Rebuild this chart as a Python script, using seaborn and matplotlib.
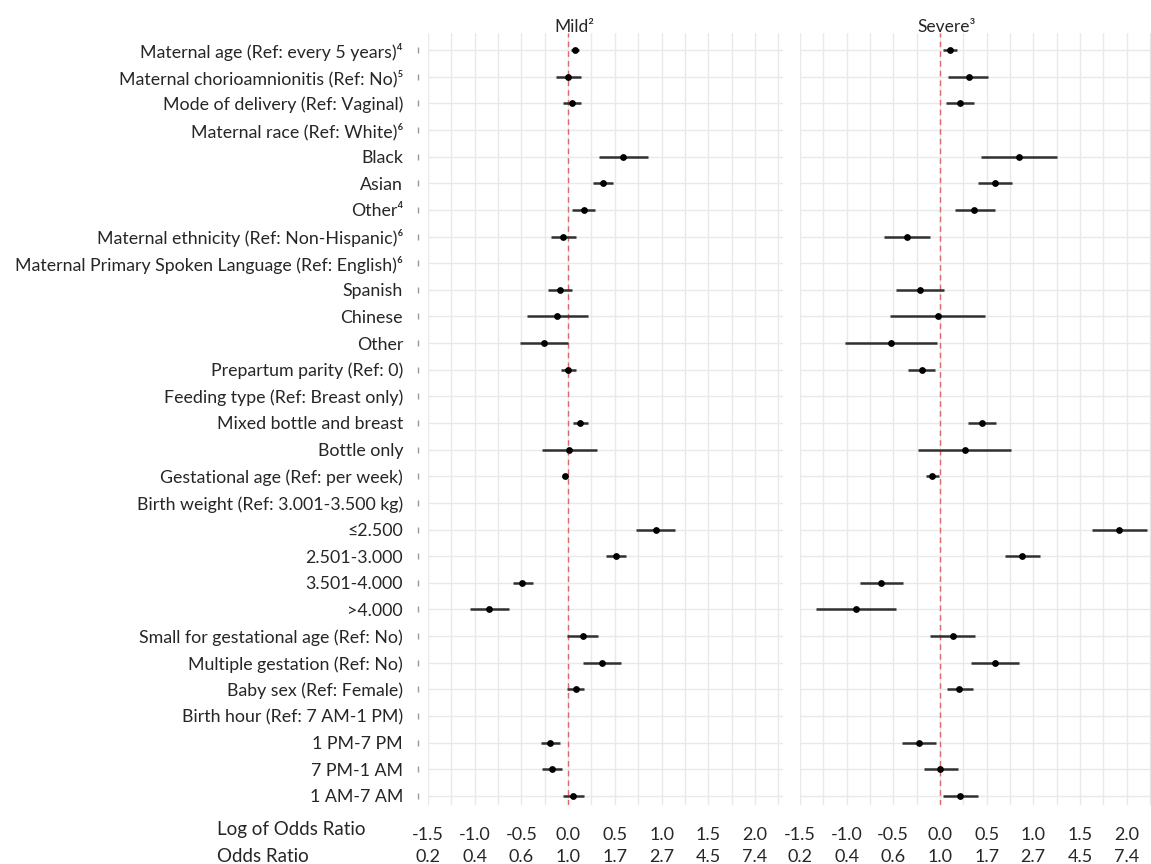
import numpy as np
import pandas as pd
import seaborn as sns
import matplotlib.pyplot as plt
from matplotlib.transforms import blended_transform_factory

nan = np.nan

LABELS = [
    'Maternal age (Ref: every 5 years)⁴',
    'Maternal chorioamnionitis (Ref: No)⁵',
    'Mode of delivery (Ref: Vaginal)',
    'Maternal race (Ref: White)⁶',
    'Black',
    'Asian',
    'Other⁴',
    'Maternal ethnicity (Ref: Non-Hispanic)⁶',
    'Maternal Primary Spoken Language (Ref: English)⁶',
    'Spanish',
    'Chinese',
    'Other',
    'Prepartum parity (Ref: 0)',
    'Feeding type (Ref: Breast only)',
    'Mixed bottle and breast',
    'Bottle only',
    'Gestational age (Ref: per week)',
    'Birth weight (Ref: 3.001-3.500 kg)',
    '≤2.500',
    '2.501-3.000',
    '3.501-4.000',
    '>4.000',
    'Small for gestational age (Ref: No)',
    'Multiple gestation (Ref: No)',
    'Baby sex (Ref: Female)',
    'Birth hour (Ref: 7 AM-1 PM)',
    '1 PM-7 PM',
    '7 PM-1 AM',
    '1 AM-7 AM',
]

# log odds ratios, mild hyperbilirubinemia
mild_est = [0.07, 0.0, 0.04, nan, 0.59, 0.375, 0.165, -0.055, nan, -0.09, -0.115, -0.255,
            0.0, nan, 0.13, 0.01, -0.035, nan, 0.94, 0.51, -0.49, -0.845, 0.155, 0.36,
            0.08, nan, -0.195, -0.175, 0.055]
mild_lo = [0.035, -0.125, -0.055, nan, 0.33, 0.27, 0.045, -0.18, nan, -0.22, -0.435, -0.51,
           -0.08, nan, 0.05, -0.275, -0.07, nan, 0.725, 0.40, -0.59, -1.05, -0.01, 0.155,
           -0.01, nan, -0.295, -0.285, -0.05]
mild_hi = [0.12, 0.135, 0.135, nan, 0.855, 0.48, 0.29, 0.08, nan, 0.045, 0.21, 0.0,
           0.08, nan, 0.215, 0.305, 0.0, nan, 1.145, 0.615, -0.375, -0.63, 0.325, 0.57,
           0.17, nan, -0.09, -0.065, 0.17]

# log odds ratios, severe hyperbilirubinemia
severe_est = [0.105, 0.31, 0.215, nan, 0.85, 0.585, 0.37, -0.355, nan, -0.215, -0.02, -0.53,
              -0.195, nan, 0.45, 0.27, -0.08, nan, 1.92, 0.88, -0.63, -0.905, 0.14, 0.585,
              0.205, nan, -0.225, 0.0, 0.22]
severe_lo = [0.035, 0.09, 0.065, nan, 0.445, 0.405, 0.16, -0.605, nan, -0.475, -0.535, -1.02,
             -0.345, nan, 0.305, -0.23, -0.15, nan, 1.625, 0.695, -0.86, -1.33, -0.11, 0.335,
             0.08, nan, -0.405, -0.175, 0.03]
severe_hi = [0.18, 0.52, 0.37, nan, 1.255, 0.77, 0.595, -0.105, nan, 0.045, 0.48, -0.03,
             -0.05, nan, 0.605, 0.765, -0.005, nan, 2.215, 1.07, -0.395, -0.47, 0.38, 0.85,
             0.35, nan, -0.04, 0.195, 0.41]

PANELS = ['Mild²', 'Severe³']
LOG_TICKS = [-1.5, -1.0, -0.5, 0.0, 0.5, 1.0, 1.5, 2.0]
OR_LABELS = ['0.2', '0.4', '0.6', '1.0', '1.7', '2.7', '4.5', '7.4']

sns.set_theme(style='white')
plt.rcParams['font.family'] = ['Lato', 'DejaVu Sans']
plt.rcParams['axes.unicode_minus'] = False

W, H = 1151, 864
fig = plt.figure(figsize=(W / 100, H / 100), dpi=100)

top_px, bot_px = 33, 805
boxes = [(428, 783, 2.3), (800, 1151, 2.262)]
ests = [mild_est, severe_est]
los = [mild_lo, severe_lo]
his = [mild_hi, severe_hi]
rows = np.arange(len(LABELS))
text_col = '#262626'

for i, (x0, x1, xmax) in enumerate(boxes):
    ax = fig.add_axes([x0 / W, 1 - bot_px / H, (x1 - x0) / W, (bot_px - top_px) / H])
    df = pd.DataFrame({'row': rows, 'est': ests[i], 'lo': los[i], 'hi': his[i]}).dropna()

    ax.set_xlim(-1.5, xmax)
    ax.set_ylim(28.34, -0.64)
    ax.set_xticks(LOG_TICKS)
    ax.set_xticks(np.arange(-1.25, 2.3, 0.5), minor=True)
    ax.set_xticklabels([f'{v:.1f}' for v in LOG_TICKS], fontsize=13, color=text_col)
    ax.set_yticks(rows)
    if i == 0:
        ax.set_yticklabels(LABELS, fontsize=12.8, color=text_col)
        # little tick marks beside each row label
        ty = blended_transform_factory(ax.transAxes, ax.transData)
        ax.plot(np.full(len(rows), -10 / (x1 - x0)), rows, ls='none', marker='|',
                ms=5, mew=1, color='#9a9a9a', transform=ty, clip_on=False)
    else:
        ax.set_yticklabels([])
    ax.tick_params(axis='both', which='both', length=0)
    ax.tick_params(axis='y', pad=18)
    ax.tick_params(axis='x', pad=16)
    ax.grid(True, which='both', color='#e9e9e9', lw=1)
    ax.set_axisbelow(True)
    for sp in ax.spines.values():
        sp.set_visible(False)

    ax.axvline(0, color='#dd6a6a', ls=(0, (4, 3)), lw=1, zorder=2)
    ax.hlines(df['row'], df['lo'], df['hi'], color='#303030', lw=1.8, zorder=3)
    sns.scatterplot(data=df, x='est', y='row', color='black', s=24, edgecolor='black',
                    linewidth=0, ax=ax, zorder=4, legend=False)
    ax.set_xlabel('')
    ax.set_ylabel('')

    tr = blended_transform_factory(ax.transData, ax.transAxes)
    for v, lab in zip(LOG_TICKS, OR_LABELS):
        ax.text(v, -(857 - bot_px) / (bot_px - top_px), lab, transform=tr,
                ha='center', va='center', fontsize=13, color=text_col, clip_on=False)
    ax.text(0.07, (top_px - 27) / (bot_px - top_px) + 1, PANELS[i], transform=tr,
            ha='center', va='center', fontsize=12.5, color=text_col)

fig.text(217 / W, 1 - 830 / H, 'Log of Odds Ratio', ha='left', va='center',
         fontsize=13.5, color=text_col)
fig.text(217 / W, 1 - 857 / H, 'Odds Ratio', ha='left', va='center',
         fontsize=13.5, color=text_col)

fig.savefig('out.png', dpi=100)
